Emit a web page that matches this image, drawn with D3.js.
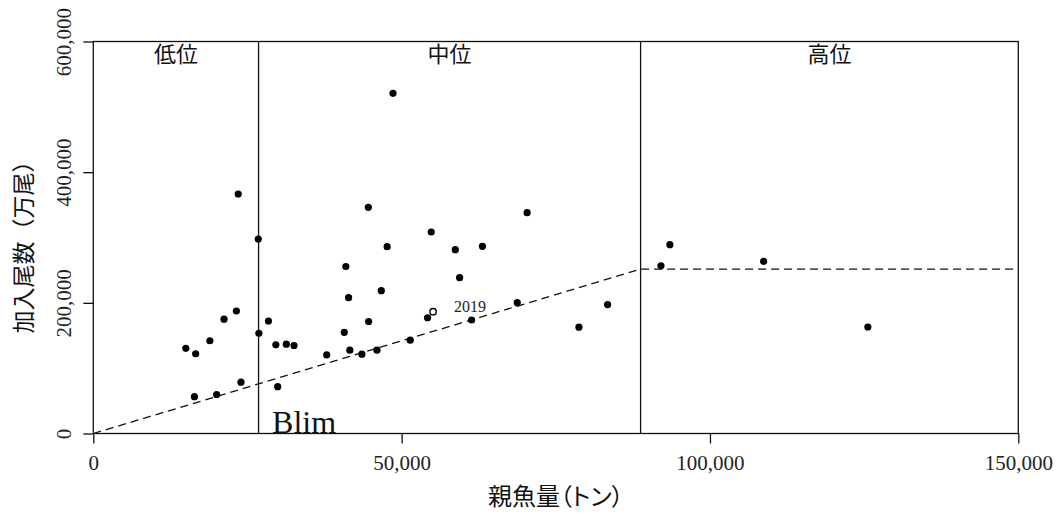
<!DOCTYPE html>
<html>
<head>
<meta charset="utf-8">
<script src="https://cdn.jsdelivr.net/npm/d3@7"></script>
<style>
  body { margin: 0; background: #fff; }
  .jp { font-family: "Noto Sans CJK JP", "Noto Sans", sans-serif; font-feature-settings: "palt"; }
  .jpfull { font-family: "Noto Sans CJK JP", "Noto Sans", sans-serif; }
  .serif { font-family: "Liberation Serif", "DejaVu Serif", serif; }
</style>
</head>
<body>
<div id="chart"></div>
<script>
// spawning stock biomass (t) and recruits (10^4 fish), one point per year
const ssb = [15000, 16600, 16400, 18900, 20000, 21200, 23200, 23500, 23950, 26750,
             26850, 28400, 29600, 29900, 31300, 32550, 37850, 40700, 40950, 41400,
             41600, 43550, 44600, 44650, 46000, 46700, 47650, 48600, 51400, 54200,
             54800, 58700, 59400, 61350, 63100, 68750, 70350, 78750, 83400, 92050,
             93500, 108700, 125600];
const recruit = [130400, 122100, 56300, 142000, 59700, 175000, 187500, 366600, 78500, 297700,
                 153400, 172200, 135800, 71600, 136700, 134700, 120200, 154900, 255600, 207900,
                 127500, 121400, 346200, 171400, 127500, 218600, 285900, 520700, 142800, 177200,
                 308400, 281300, 238500, 173700, 286500, 200200, 338000, 162700, 197300, 256700,
                 289000, 263600, 163000];

// latest year, drawn as an open circle
const lastYear = ["2019"];
const lastSsb = [55100];
const lastRecruit = [186400];

// hockey-stick line and reference points
const hsX = [0, 88750, 150000];
const hsY = [0, 251700, 251700];
const blim = 26800;
const bhigh = 88750;

const zones = ["低位", "中位", "高位"];
const zoneEdges = [0, blim, bhigh, 150000];

const xTicks = [0, 50000, 100000, 150000];
const yTicks = [0, 200000, 400000, 600000];

const W = 1058, H = 516;
const margin = {left: 93.3, top: 41.5, right: 39.7, bottom: 82.5};
const w = W - margin.left - margin.right;
const h = H - margin.top - margin.bottom;

const svg = d3.select("#chart").append("svg")
    .attr("width", W)
    .attr("height", H);

const g = svg.append("g")
    .attr("transform", "translate(" + margin.left + "," + margin.top + ")");

const x = d3.scaleLinear().domain([0, 150000]).range([0, w]);
const y = d3.scaleLinear().domain([0, 600000]).range([h, 0]);
const fmt = d3.format(",");

// axes
const xAxis = g.append("g")
    .attr("transform", "translate(0," + h + ")")
    .call(d3.axisBottom(x).tickValues(xTicks).tickFormat(fmt).tickSize(10).tickPadding(4).tickSizeOuter(0));
xAxis.select(".domain").remove();
xAxis.selectAll("line").attr("stroke", "#111").attr("stroke-width", 1.3);
xAxis.selectAll("text")
    .attr("class", "serif")
    .attr("font-size", 21)
    .attr("fill", "#222")
    .attr("dy", null)
    .attr("y", 36);

const yAxis = g.append("g")
    .call(d3.axisLeft(y).tickValues(yTicks).tickFormat(fmt).tickSize(10).tickSizeOuter(0));
yAxis.select(".domain").remove();
yAxis.selectAll("line").attr("stroke", "#111").attr("stroke-width", 1.3);
yAxis.selectAll("text")
    .attr("class", "serif")
    .attr("font-size", 21)
    .attr("fill", "#222")
    .attr("x", null)
    .attr("dy", null)
    .attr("text-anchor", "middle")
    .attr("transform", "translate(-22,0) rotate(-90)");

// frame
g.append("rect")
    .attr("width", w)
    .attr("height", h)
    .attr("fill", "none")
    .attr("stroke", "#111")
    .attr("stroke-width", 1.3);

// zone boundaries
g.selectAll(".vline")
    .data([blim, bhigh])
    .enter().append("line")
    .attr("x1", d => x(d)).attr("x2", d => x(d))
    .attr("y1", y(0)).attr("y2", y(600000))
    .attr("stroke", "#111")
    .attr("stroke-width", 1.3);

// hockey stick
const hs = hsX.map((d, i) => [d, hsY[i]]);
g.append("path")
    .datum(hs)
    .attr("d", d3.line().x(d => x(d[0])).y(d => y(d[1])))
    .attr("fill", "none")
    .attr("stroke", "#111")
    .attr("stroke-width", 1.3)
    .attr("stroke-dasharray", "8,5");

// zone labels
g.selectAll(".zone")
    .data(zones)
    .enter().append("text")
    .attr("class", "jp")
    .attr("x", (d, i) => (x(zoneEdges[i]) + x(zoneEdges[i + 1])) / 2)
    .attr("y", 20.5)
    .attr("text-anchor", "middle")
    .attr("font-size", 22)
    .attr("fill", "#111")
    .text(d => d);

g.append("text")
    .attr("class", "serif")
    .attr("x", x(blim) + 13.5)
    .attr("y", y(0) - 1)
    .attr("font-size", 32)
    .attr("fill", "#111")
    .text("Blim");

// points
const pts = ssb.map((d, i) => [d, recruit[i]]);
g.selectAll(".pt")
    .data(pts)
    .enter().append("circle")
    .attr("cx", d => x(d[0]))
    .attr("cy", d => y(d[1]))
    .attr("r", 3.6)
    .attr("fill", "#000");

g.selectAll(".last")
    .data(lastYear)
    .enter().append("circle")
    .attr("cx", (d, i) => x(lastSsb[i]))
    .attr("cy", (d, i) => y(lastRecruit[i]))
    .attr("r", 3.2)
    .attr("fill", "#fff")
    .attr("stroke", "#000")
    .attr("stroke-width", 1.4);

g.selectAll(".lastlab")
    .data(lastYear)
    .enter().append("text")
    .attr("class", "serif")
    .attr("x", (d, i) => x(lastSsb[i]) + 21)
    .attr("y", (d, i) => y(lastRecruit[i]))
    .attr("font-size", 16)
    .attr("fill", "#222")
    .text(d => d);

// axis titles
svg.append("text")
    .attr("class", "jp")
    .attr("x", margin.left + w / 2)
    .attr("y", 505)
    .attr("text-anchor", "middle")
    .attr("font-size", 24)
    .attr("fill", "#111")
    .text("親魚量（トン）");

svg.append("text")
    .attr("class", "jpfull")
    .attr("transform", "translate(22," + (margin.top + h / 2 + 4) + ") rotate(-90)")
    .attr("text-anchor", "middle")
    .attr("dominant-baseline", "central")
    .attr("font-size", 23)
    .attr("fill", "#111")
    .text("加入尾数（万尾）");
</script>
</body>
</html>
